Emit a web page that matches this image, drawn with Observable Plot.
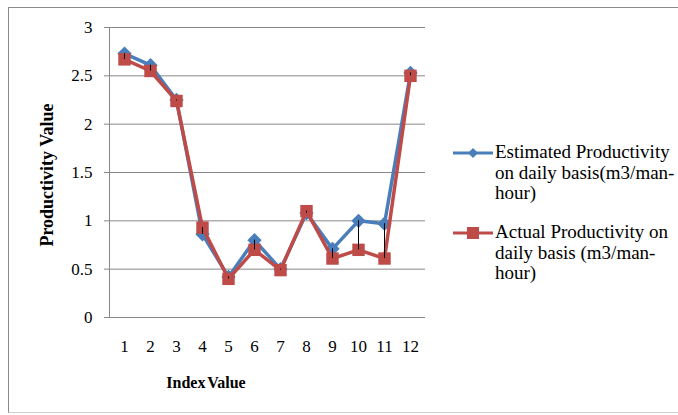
<!DOCTYPE html>
<html><head><meta charset="utf-8">
<script src="https://cdn.jsdelivr.net/npm/d3@7"></script>
<script src="https://cdn.jsdelivr.net/npm/@observablehq/plot@0.6"></script>
<style>
body{margin:0;background:#fff;font-family:"Liberation Serif","Times New Roman",serif;color:#000}
#wrap{position:relative;width:678px;height:415px;overflow:hidden;background:#fff}
#border{position:absolute;left:8px;top:7px;width:700px;height:406px;border:1px solid #8a8a8a;border-bottom-color:#cfcfcf;box-sizing:border-box}
#chart{position:absolute;left:0;top:0}
#chart svg, #chart svg g, #chart svg text{font-family:"Liberation Serif","Times New Roman",serif !important;font-variant:normal !important}
.ytitle{position:absolute;left:47px;top:175px;transform:translate(-50%,-50%) rotate(-90deg);font-weight:bold;font-size:18px;white-space:nowrap}
.xtitle{position:absolute;left:206px;top:383px;transform:translate(-50%,-50%);font-weight:bold;font-size:16px;word-spacing:-2px;white-space:nowrap}
.leg{position:absolute;left:453px;font-size:19px;line-height:20.5px}
.leg svg{position:absolute;left:0;top:3px}
.leg div{margin-left:42px;white-space:nowrap}
</style>
</head><body>
<div id="wrap">
<div id="border"></div>
<div id="chart"></div>
<div class="ytitle">Productivity Value</div>
<div class="xtitle">Index Value</div>
<div class="leg" style="top:142px">
<svg width="42" height="16"><line x1="0" x2="40" y1="8" y2="8" stroke="#4A7EBB" stroke-width="3"/><path d="M20,3L25,8L20,13L15,8Z" fill="#4A7EBB"/></svg>
<div>Estimated Productivity<br>on daily basis(m3/man-<br>hour)</div>
</div>
<div class="leg" style="top:222px">
<svg width="42" height="16"><line x1="0" x2="40" y1="8" y2="8" stroke="#BE4B48" stroke-width="3"/><rect x="14" y="2" width="12" height="12" fill="#BE4B48"/></svg>
<div>Actual Productivity on<br>daily basis (m3/man-<br>hour)</div>
</div>
</div>
<script>
const indexValues = [1,2,3,4,5,6,7,8,9,10,11,12];
const estimated = [2.73,2.61,2.25,0.86,0.42,0.80,0.50,1.08,0.71,1.00,0.97,2.53];
const actual    = [2.67,2.55,2.24,0.93,0.40,0.70,0.49,1.10,0.61,0.70,0.61,2.50];
const yTicks = [0,0.5,1,1.5,2,2.5,3];

const data = indexValues.map((d,i)=>({index:d, est:estimated[i], act:actual[i]}));
const blue = "#4A7EBB", red = "#BE4B48", grid = "#888888";
const serif = '"Liberation Serif","Times New Roman",serif';

const chart = Plot.plot({
  width:678, height:415,
  marginLeft:109, marginRight:253, marginTop:27, marginBottom:98,
  style:{fontFamily:serif, fontSize:"17px", background:"transparent", color:"#000"},
  x:{type:"point", domain:indexValues, padding:0.5},
  y:{domain:[0,3]},
  marks:[
    Plot.gridY(yTicks, {stroke:grid, strokeOpacity:1}),
    Plot.frame({anchor:"left", stroke:grid}),
    Plot.axisY(yTicks, {tickSize:5, tickPadding:12, stroke:grid, tickFormat:d=>String(d), label:null, fontSize:17, fontFamily:serif, fontVariant:"normal"}),
    Plot.axisX({tickSize:0, tickPadding:22, label:null, fontSize:17, fontFamily:serif, fontVariant:"normal"}),
    Plot.line(data, {x:"index", y:"est", stroke:blue, strokeWidth:3.5}),
    Plot.dot(data, {x:"index", y:"est", symbol:"diamond2", r:5.5, fill:blue, stroke:blue}),
    Plot.line(data, {x:"index", y:"act", stroke:red, strokeWidth:3.5}),
    Plot.dot(data, {x:"index", y:"act", symbol:"square", r:7, fill:red}),
    Plot.ruleX(data, {x:"index", y1:"est", y2:"act", stroke:"#000", strokeWidth:1})
  ]
});
document.getElementById("chart").appendChild(chart);
</script>
</body></html>
